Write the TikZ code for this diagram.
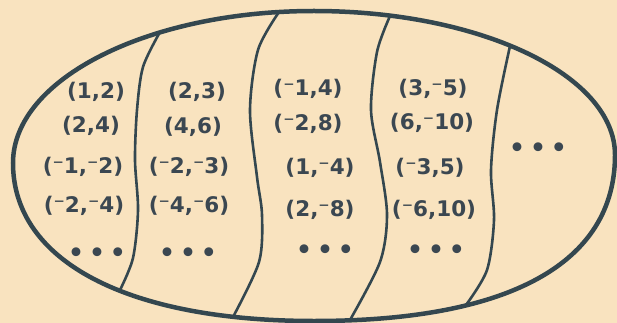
\documentclass[tikz,border=0pt]{standalone}
\usepackage{fontspec}
\setmainfont{DejaVu Sans}
\definecolor{paper}{HTML}{F9E3BF}
\definecolor{ink}{HTML}{34474F}
\definecolor{txt}{HTML}{3B4751}
\newcommand{\threedots}{•\hspace{5pt}•\hspace{5pt}•}
\begin{document}
\begin{tikzpicture}[x=1pt,y=-1pt,
  pair/.style={text=txt,font=\fontsize{21.5}{22}\selectfont\bfseries,inner sep=0pt},
  dotrow/.style={text=txt,font=\fontsize{25}{25}\selectfont\bfseries,inner sep=0pt},
  outline/.style={draw=ink,line width=4.5pt},
  divider/.style={draw=ink,line width=2.6pt}]
\fill[paper] (0,0) rectangle (617,323);
\useasboundingbox (0,0) rectangle (617,323);
% outer oval
\coordinate (L) at (13,163);
\coordinate (T) at (314,11);
\coordinate (R) at (615,155);
\coordinate (B) at (314,321);
\draw[outline] (L) .. controls (13,79) and (148,11) .. (T)
  .. controls (480,11) and (615,75) .. (R)
  .. controls (615,263) and (510,321) .. (B)
  .. controls (127,321) and (13,261) .. (L) -- cycle;
% dividers
\draw[divider] plot[smooth] coordinates {(160,32) (143,67) (137,110) (135,160) (138,210) (133,258) (120,290)};
\draw[divider] plot[smooth] coordinates {(279,12) (258,50) (250,110) (257,177) (262,215) (259,262) (233,317)};
\draw[divider] plot[smooth] coordinates {(390,16) (377,52) (371,110) (380,162) (387,215) (380,262) (350,320)};
\draw[divider] plot[smooth] coordinates {(510,46) (497,110) (491,170) (494,220) (487,270) (466,305)};
% column 1
\node[pair] (a1) at (96,92) {(1,2)};
\node[pair] (a2) at (91,126) {(2,4)};
\node[pair] (a3) at (83,167) {(⁻1,⁻2)};
\node[pair] (a4) at (84,206) {(⁻2,⁻4)};
\node[dotrow] (a5) at (97,255) {\threedots};
% column 2
\node[pair] (b1) at (197,92) {(2,3)};
\node[pair] (b2) at (193,127) {(4,6)};
\node[pair] (b3) at (189,167) {(⁻2,⁻3)};
\node[pair] (b4) at (189,206) {(⁻4,⁻6)};
\node[dotrow] (b5) at (188,255) {\threedots};
% column 3
\node[pair] (c1) at (308,89) {(⁻1,4)};
\node[pair] (c2) at (308,124) {(⁻2,8)};
\node[pair] (c3) at (320,168) {(1,⁻4)};
\node[pair] (c4) at (320,210) {(2,⁻8)};
\node[dotrow] (c5) at (325,252) {\threedots};
% column 4
\node[pair] (d1) at (433,89) {(3,⁻5)};
\node[pair] (d2) at (432,123) {(6,⁻10)};
\node[pair] (d3) at (430,168) {(⁻3,5)};
\node[pair] (d4) at (434,210) {(⁻6,10)};
\node[dotrow] (d5) at (436,252) {\threedots};
% column 5
\node[dotrow] (e1) at (538,150) {\threedots};
\end{tikzpicture}
\end{document}
